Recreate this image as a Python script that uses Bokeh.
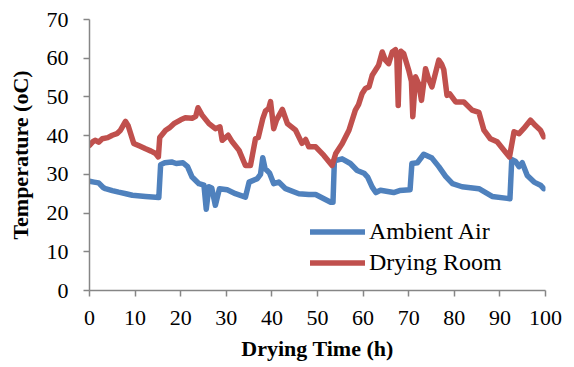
from bokeh.plotting import figure
from bokeh.models import Legend, LegendItem, Range1d, FixedTicker
from bokeh.embed import file_html
from bokeh.resources import INLINE

# Ambient air temperature readings (time in h, temperature in oC)
ambient_time = [0, 1, 2, 3, 3.5, 5, 6.4, 8, 9.4, 12.3, 14.5, 15.2, 15.6, 16.5, 18, 19,
                20.5, 21.5, 22.5, 24, 25.1, 25.6, 26.2, 26.8, 27.6, 28.5, 30.2, 32, 34.2,
                35, 36.8, 37.5, 38, 38.5, 39.5, 40.4, 41.5, 43, 45.9, 48.1, 49.6, 51.4,
                52.9, 53.4, 53.7, 55.4, 57.2, 58.7, 60.2, 61, 62, 62.8, 63.8, 66.7, 68,
                70.3, 70.7, 71.9, 73.3, 75.1, 76.6, 78.1, 79.6, 81.7, 85.4, 88.3, 91.6,
                92.2, 92.6, 93.4, 94.2, 94.9, 96, 97.5, 98.9, 99.6]
ambient_temp = [28.2, 28.0, 27.8, 26.6, 26.3, 25.8, 25.4, 25.0, 24.6, 24.3, 24.1, 24.0, 32.5,
                33.0, 33.2, 32.8, 33.0, 32.0, 29.3, 27.6, 27.2, 21.0, 26.8, 26.5, 22.0, 26.3,
                26.0, 25.0, 24.1, 28.0, 28.9, 30.0, 34.3, 31.5, 30.3, 27.6, 28.0, 26.3, 25.0,
                24.8, 24.8, 23.7, 22.8, 22.8, 33.5, 34.0, 32.8, 31.0, 30.3, 29.3, 26.7, 25.3,
                25.9, 25.3, 25.8, 26.0, 32.8, 33.0, 35.2, 34.2, 32.0, 29.5, 27.6, 26.8, 26.3,
                24.3, 23.8, 23.7, 33.8, 33.4, 32.0, 33.0, 29.7, 28.0, 27.2, 26.3]

# Drying room temperature readings
room_time = [0, 0.8, 1.3, 2, 2.8, 4, 5, 6, 6.8, 7.9, 8.5, 9.7, 11, 12.3, 13.5, 14.5, 15.1,
             15.4, 16.7, 17.5, 18.5, 20, 21, 22.5, 23.3, 23.8, 24.7, 26.2, 27.6, 28.6, 29.1,
             30.4, 31.3, 32.8, 34.2, 35.3, 36.4, 37, 38, 38.6, 39.3, 39.7, 40.4, 41, 42.3,
             43.4, 45.2, 46.6, 47.4, 48.1, 49.6, 51.4, 53.2, 54, 55.4, 56.9, 58.3, 59, 59.8,
             60.5, 61.3, 62, 62.7, 63.4, 64.2, 64.9, 65.6, 66.4, 67.1, 67.4, 67.7, 68.0,
             68.3, 68.9, 70, 70.6, 70.9, 71.5, 72.2, 72.8, 73.7, 74.4, 75.1, 76.6, 77.2,
             77.7, 78.4, 79, 80.3, 82.1, 83.9, 85.4, 86.5, 87.9, 89.4, 91.2, 92.1, 93.1,
             94.2, 95.2, 96.7, 97.8, 98.9, 99.6]
room_temp = [37.5, 38.5, 38.8, 38.3, 39.2, 39.5, 40.1, 40.5, 41.4, 43.7, 42.5, 38.0, 37.3,
             36.6, 36.0, 35.4, 34.5, 39.5, 41.4, 42.0, 43.1, 44.1, 44.6, 44.5, 45.0, 47.2,
             45.3, 43.1, 41.8, 42.3, 38.8, 40.1, 38.4, 36.2, 32.3, 32.3, 39.2, 39.5, 44.4,
             46.4, 47.0, 48.8, 41.8, 44.0, 46.8, 43.1, 41.4, 38.0, 39.0, 37.1, 37.1, 34.9,
             32.3, 35.4, 37.9, 41.4, 46.6, 48.0, 50.9, 52.2, 52.6, 55.6, 56.9, 58.2, 61.6,
             59.5, 58.6, 61.6, 62.2, 60.0, 47.8, 60.5, 61.8, 61.2, 56.9, 54.0, 44.9, 55.2,
             53.3, 49.1, 57.3, 54.5, 52.6, 59.5, 58.5, 57.0, 50.4, 50.8, 48.7, 48.7, 46.6,
             46.0, 41.4, 39.2, 38.4, 35.8, 34.5, 41.0, 40.5, 41.8, 44.0, 42.6, 41.4, 39.7]

x_ticks = [0, 10, 20, 30, 40, 50, 60, 70, 80, 90, 100]
y_ticks = [0, 10, 20, 30, 40, 50, 60, 70]

BLUE = "#4F81BD"
RED = "#C0504D"
AXIS = "#868686"
FONT = "'Liberation Serif', 'Times New Roman', serif"

p = figure(width=574, height=367, output_backend="svg", toolbar_location=None,
           x_range=Range1d(0, 100), y_range=Range1d(0, 70),
           min_border_left=89, min_border_right=29, min_border_top=19,
           min_border_bottom=77)
p.outline_line_color = None
p.xgrid.grid_line_color = None
p.ygrid.grid_line_color = None

r_amb = p.line(ambient_time, ambient_temp, line_color=BLUE, line_width=5.5,
               line_join="round", line_cap="round")
r_room = p.line(room_time, room_temp, line_color=RED, line_width=5.5,
                line_join="round", line_cap="round")

for ax in (p.xaxis[0], p.yaxis[0]):
    ax.axis_line_color = AXIS
    ax.axis_line_width = 1.5
    ax.major_tick_line_color = AXIS
    ax.major_tick_line_width = 1.5
    ax.major_tick_in = 0
    ax.major_tick_out = 6
    ax.minor_tick_line_color = None
    ax.major_label_text_font = FONT
    ax.major_label_text_font_size = "22px"
    ax.major_label_text_color = "#000000"
    ax.axis_label_text_font = FONT
    ax.axis_label_text_font_size = "22px"
    ax.axis_label_text_font_style = "bold"
    ax.axis_label_text_color = "#000000"

p.xaxis.ticker = FixedTicker(ticks=x_ticks)
p.yaxis.ticker = FixedTicker(ticks=y_ticks)
p.xaxis.axis_label = "Drying Time (h)"
p.yaxis.axis_label = "Temperature (oC)"
p.xaxis.major_label_standoff = 14
p.xaxis.axis_label_standoff = 8
p.yaxis.major_label_standoff = 15
p.yaxis.axis_label_standoff = 11

legend = Legend(items=[LegendItem(label="Ambient Air", renderers=[r_amb]),
                       LegendItem(label="Drying Room", renderers=[r_room])],
                location=(221, 12), orientation="vertical",
                border_line_alpha=0, background_fill_alpha=0,
                padding=0, margin=0, spacing=0,
                glyph_width=55, glyph_height=31, label_height=31,
                label_standoff=4,
                label_text_font=FONT, label_text_font_size="24px",
                label_text_color="#000000")
p.add_layout(legend)

open("out.html", "w").write(file_html(p, INLINE))
